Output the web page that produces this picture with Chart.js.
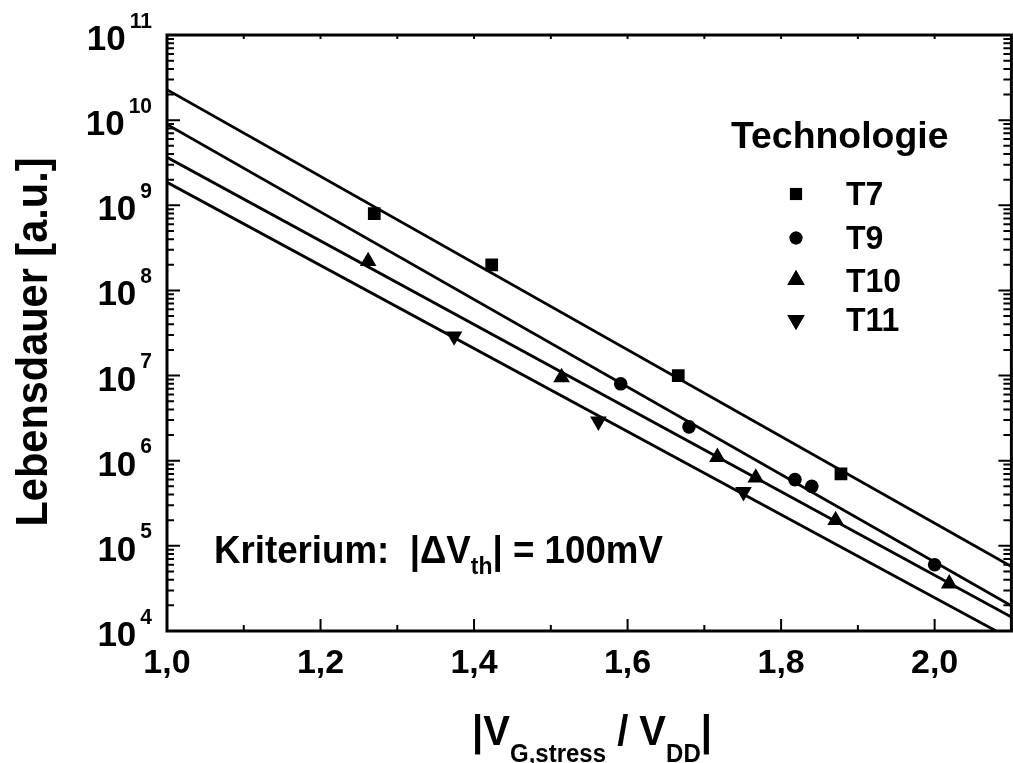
<!DOCTYPE html>
<html>
<head>
<meta charset="utf-8">
<script src="https://cdn.jsdelivr.net/npm/chart.js@4/dist/chart.umd.min.js"></script>
<style>
html,body{margin:0;padding:0;overflow:hidden;background:#fff;width:1013px;height:763px;}
#wrap{width:1021px;height:763px;position:relative;}
</style>
</head>
<body>
<div id="wrap"><canvas id="c"></canvas></div>
<script>
// ---- data ----
const xT7 = [1.27, 1.423, 1.666, 1.878];
const yT7 = [8e8, 2e8, 1e7, 7e5];
const xT9 = [1.591, 1.68, 1.818, 1.84, 2.0];
const yT9 = [8e6, 2.5e6, 6e5, 5e5, 6e4];
const xT10 = [1.262, 1.514, 1.717, 1.767, 1.871, 2.019];
const yT10 = [2.2e8, 9.5e6, 1.1e6, 6.3e5, 2e5, 3.6e4];
const xT11 = [1.374, 1.562, 1.751];
const yT11 = [2.9e7, 2.9e6, 4.3e5];
// fitted lines (endpoints)
const fitX = [1.0, 2.1];
const fitT7 = [2.28e10, 5.7e4];
const fitT9 = [8.9e9, 1.98e4];
const fitT10 = [3.66e9, 1.46e4];
const fitT11 = [1.86e9, 8.0e3];
// ticks
const xMajorTicks = [1.0, 1.2, 1.4, 1.6, 1.8, 2.0];
const xTickLabels = ['1,0', '1,2', '1,4', '1,6', '1,8', '2,0'];
const xMinorTicks = [1.1, 1.3, 1.5, 1.7, 1.9, 2.1];
const yExponents = [4, 5, 6, 7, 8, 9, 10, 11];
const legendNames = ['T7', 'T9', 'T10', 'T11'];

const pts = (xs, ys) => xs.map((x, i) => ({x: x, y: ys[i]}));
const FONT = '"Liberation Sans", Arial, sans-serif';

function pointDs(label, xs, ys, style, r, rot) {
  return {label, data: pts(xs, ys), showLine: false, pointStyle: style,
    pointRadius: r, pointRotation: rot || 0, pointBackgroundColor: '#000',
    pointBorderColor: '#000', pointBorderWidth: 0, pointHoverRadius: r};
}
function lineDs(vals) {
  return {type: 'line', data: pts(fitX, vals), showLine: true, pointRadius: 0,
    borderColor: '#000', borderWidth: 2.8, fill: false, tension: 0};
}

const styles = [['rect', 9, 0], ['circle', 6.8, 0], ['triangle', 9.6, 0], ['triangle', 9.6, 180]];

function width(ctx, s, size) {
  ctx.save(); ctx.font = 'bold ' + size + 'px ' + FONT;
  const w = ctx.measureText(s).width; ctx.restore(); return w;
}
function txt(ctx, s, x, y, size, align, vs) {
  ctx.save();
  ctx.font = 'bold ' + size + 'px ' + FONT;
  ctx.textAlign = align || 'left';
  ctx.textBaseline = 'alphabetic';
  ctx.translate(x, y);
  ctx.scale(1, vs || 1);
  ctx.fillText(s, 0, 0);
  ctx.restore();
  return width(ctx, s, size);
}

const axesPlugin = {
  id: 'axesPlugin',
  afterDraw(chart) {
    const ctx = chart.ctx;
    const a = chart.chartArea;
    const xs = chart.scales.x, ys = chart.scales.y;
    ctx.save();
    ctx.fillStyle = '#000';
    ctx.strokeStyle = '#000';
    // spines
    ctx.lineWidth = 3;
    ctx.lineCap = 'square';
    ctx.beginPath();
    ctx.moveTo(a.left, a.top); ctx.lineTo(a.right, a.top);
    ctx.moveTo(a.left, a.top); ctx.lineTo(a.left, a.bottom);
    ctx.moveTo(a.left, a.bottom); ctx.lineTo(a.right, a.bottom);
    ctx.moveTo(a.right, a.top); ctx.lineTo(a.right, a.bottom);
    ctx.stroke();
    ctx.lineCap = 'butt';
    ctx.lineWidth = 2;
    ctx.beginPath();
    xMajorTicks.forEach(v => {
      const p = xs.getPixelForValue(v);
      ctx.moveTo(p, a.bottom); ctx.lineTo(p, a.bottom - 12);
      ctx.moveTo(p, a.top); ctx.lineTo(p, a.top + 4);
    });
    xMinorTicks.forEach(v => {
      const p = xs.getPixelForValue(v);
      ctx.moveTo(p, a.bottom); ctx.lineTo(p, a.bottom - 6);
      ctx.moveTo(p, a.top); ctx.lineTo(p, a.top + 4);
    });
    yExponents.forEach((e, i) => {
      const p = ys.getPixelForValue(Math.pow(10, e));
      ctx.moveTo(a.left, p); ctx.lineTo(a.left + 13, p);
      ctx.moveTo(a.right, p); ctx.lineTo(a.right - 13, p);
      if (i < yExponents.length - 1) {
        for (let m = 2; m <= 9; m++) {
          const q = ys.getPixelForValue(m * Math.pow(10, e));
          ctx.moveTo(a.left, q); ctx.lineTo(a.left + 7, q);
          ctx.moveTo(a.right, q); ctx.lineTo(a.right - 8, q);
        }
      }
    });
    ctx.stroke();

    // x tick labels
    xMajorTicks.forEach((v, i) => {
      const p = xs.getPixelForValue(v);
      txt(ctx, xTickLabels[i], p, 673, 34, 'center', 1);
    });
    // y tick labels 10^n
    yExponents.forEach(e => {
      const p = ys.getPixelForValue(Math.pow(10, e));
      const sup = String(e);
      const ws = width(ctx, sup, 21);
      const right = 152;
      txt(ctx, sup, right, p - 7.5, 21, 'right', 1.05);
      txt(ctx, '10', right - ws - 4, p + 15, 35, 'right', 1.02);
    });

    // y title
    ctx.save();
    ctx.translate(47, 342);
    ctx.rotate(-Math.PI / 2);
    txt(ctx, 'Lebensdauer [a.u.]', 0, 0, 41.5, 'center', 1.07);
    ctx.restore();

    // x title |V_G,stress / V_DD|
    {
      const base = 745, sub = 762, big = 40, small = 24;
      const parts = [['|V', big, base], ['G,stress', small, sub], [' / V', big, base], ['DD', small, sub], ['|', big, base]];
      let total = 0;
      parts.forEach(pp => total += width(ctx, pp[0], pp[1]));
      let x = 592 - total / 2;
      parts.forEach(pp => { x += txt(ctx, pp[0], x, pp[2], pp[1], 'left', 1.08); });
    }

    // Kriterium annotation
    {
      const base = 563, big = 36.7, small = 23;
      const parts = [['Kriterium:  |\u0394V', big, base], ['th', small, base + 11], ['| = 100mV', big, base]];
      let x = 214;
      parts.forEach(pp => { x += txt(ctx, pp[0], x, pp[2], pp[1], 'left', 1.08); });
    }

    // legend
    txt(ctx, 'Technologie', 731, 148, 37.4, 'left', 1);
    const ly = [194, 238, 281, 320];
    legendNames.forEach((n, i) => {
      const st = styles[i];
      ctx.fillStyle = '#000';
      Chart.helpers.drawPoint(ctx, {pointStyle: st[0], radius: i < 2 ? st[1] * 0.95 : 10, rotation: st[2], borderWidth: 0}, 796, ly[i] - (i === 2 ? 1 : 0));
      ctx.fill();
      txt(ctx, n, 846, ly[i] + 11, 32, 'left', 1.05);
    });
    ctx.restore();
  }
};

const datasets = [
  pointDs('T7', xT7, yT7, styles[0][0], styles[0][1], styles[0][2]),
  pointDs('T9', xT9, yT9, styles[1][0], styles[1][1], styles[1][2]),
  pointDs('T10', xT10, yT10, styles[2][0], styles[2][1], styles[2][2]),
  pointDs('T11', xT11, yT11, styles[3][0], styles[3][1], styles[3][2]),
  lineDs(fitT7), lineDs(fitT9), lineDs(fitT10), lineDs(fitT11)
];

new Chart(document.getElementById('c'), {
  type: 'scatter',
  data: {datasets},
  options: {
    responsive: true,
    maintainAspectRatio: false,
    devicePixelRatio: 1,
    animation: false,
    layout: {padding: {left: 0, right: 1, top: 35, bottom: 0}},
    plugins: {legend: {display: false}, tooltip: {enabled: false}},
    scales: {
      x: {type: 'linear', min: 1.0, max: 2.1,
        ticks: {display: false}, grid: {display: false}, border: {display: false},
        afterFit(s) { s.height = 132; }},
      y: {type: 'logarithmic', min: 1e4, max: 1e11,
        ticks: {display: false}, grid: {display: false}, border: {display: false},
        afterFit(s) { s.width = 167; }}
    }
  },
  plugins: [axesPlugin]
});
</script>
</body>
</html>
